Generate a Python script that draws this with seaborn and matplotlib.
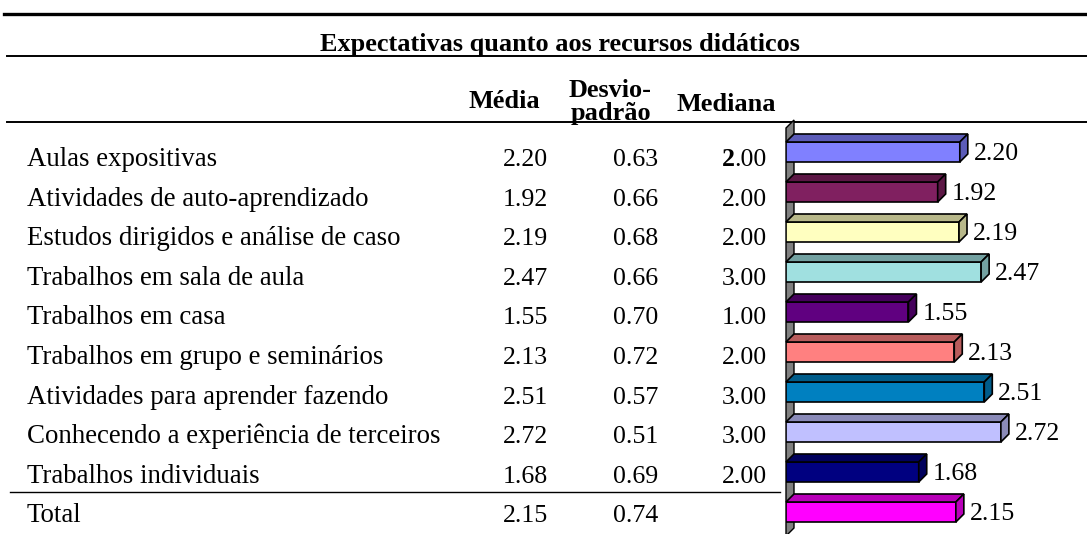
import matplotlib
matplotlib.use("Agg")
import matplotlib.pyplot as plt
import seaborn as sns
from matplotlib.patches import Polygon
from matplotlib.colors import to_rgb

# Data
recursos = [
    "Aulas expositivas",
    "Atividades de auto-aprendizado",
    "Estudos dirigidos e análise de caso",
    "Trabalhos em sala de aula",
    "Trabalhos em casa",
    "Trabalhos em grupo e seminários",
    "Atividades para aprender fazendo",
    "Conhecendo a experiência de terceiros",
    "Trabalhos individuais",
    "Total",
]
media = [2.20, 1.92, 2.19, 2.47, 1.55, 2.13, 2.51, 2.72, 1.68, 2.15]
desvio = [0.63, 0.66, 0.68, 0.66, 0.70, 0.72, 0.57, 0.51, 0.69, 0.74]
mediana = [2.00, 2.00, 2.00, 3.00, 1.00, 2.00, 3.00, 3.00, 2.00, None]
cores = ["#8080FF", "#802060", "#FFFFC0", "#A0E0E0", "#600080",
         "#FF8080", "#0080C0", "#C0C0FF", "#000080", "#FF00FF"]

W, H = 1087, 534
serif = "Liberation Serif"
fs = 18.6      # numbers
fs_lab = 19.4  # row labels

fig = plt.figure(figsize=(W / 100, H / 100), dpi=100)

# background axes in pixel coordinates for the table part
bg = fig.add_axes([0, 0, 1, 1])
bg.set_xlim(0, W)
bg.set_ylim(H, 0)
bg.axis("off")

bg.plot([4, W], [14, 14], color="black", lw=2.4)
bg.plot([7, W], [55.5, 55.5], color="black", lw=1.4)
bg.plot([7, W], [122, 122], color="black", lw=1.4)
bg.plot([10, 780], [492, 492], color="black", lw=1.0)

bold = dict(ha="center", va="baseline", fontsize=18.9, fontweight="bold", family=serif)
bg.text(560, 51, "Expectativas quanto aos recursos didáticos", **bold)
bg.text(504, 108, "Média", **bold)
bg.text(610, 97, "Desvio-", **bold)
bg.text(611, 120, "padrão", **bold)
bg.text(726, 111, "Mediana", **bold)

fig.canvas.draw()
renderer = fig.canvas.get_renderer()
for i, nome in enumerate(recursos):
    yb = 166 + 39.6 * i
    bg.text(27, yb, nome, ha="left", va="baseline", fontsize=fs_lab, family=serif)
    bg.text(548, yb, f"{media[i]:.2f}", ha="right", va="baseline", fontsize=fs, family=serif)
    bg.text(658, yb, f"{desvio[i]:.2f}", ha="right", va="baseline", fontsize=fs, family=serif)
    if mediana[i] is None:
        continue
    s = f"{mediana[i]:.2f}"
    if i == 0:
        # first value has a bold integer part in the original
        t = bg.text(767, yb, s[1:], ha="right", va="baseline", fontsize=fs, family=serif)
        bb = t.get_window_extent(renderer)
        x0 = bg.transData.inverted().transform((bb.x0, 0))[0]
        bg.text(x0, yb, s[0], ha="right", va="baseline", fontsize=fs,
                fontweight="bold", family=serif)
    else:
        bg.text(767, yb, s, ha="right", va="baseline", fontsize=fs, family=serif)

# bar chart axes
px_unit = 79.0
ax = fig.add_axes([786 / W, 2 / H, (W - 786) / W, 400 / H])
ax.patch.set_alpha(0)
sns.barplot(x=media, y=recursos, hue=recursos, palette=cores, legend=False,
            orient="h", width=0.5, saturation=1, edgecolor="black",
            linewidth=1.2, ax=ax, zorder=3)
ax.set_xlim(0, (W - 786) / px_unit)
ax.set_ylim(9.5, -0.5)
ax.axis("off")

dx = 8 / px_unit
dy = 8 / 40.0

# gray side wall
wall = Polygon([(0, 9.6), (0, -0.6), (dx, -0.6 - dy), (dx, 9.6 - dy)],
               closed=True, facecolor="#808080", edgecolor="black", lw=1.0,
               clip_on=False, zorder=1)
ax.add_patch(wall)

for p, c in zip(ax.patches[:len(media)], cores):
    x1 = p.get_width()
    y0 = p.get_y()
    y1 = y0 + p.get_height()
    dark = tuple(v * 0.72 for v in to_rgb(c))
    top = Polygon([(0, y0), (dx, y0 - dy), (x1 + dx, y0 - dy), (x1, y0)],
                  closed=True, facecolor=dark, edgecolor="black", lw=1.2,
                  clip_on=False, zorder=3)
    side = Polygon([(x1, y0), (x1 + dx, y0 - dy), (x1 + dx, y1 - dy), (x1, y1)],
                   closed=True, facecolor=dark, edgecolor="black", lw=1.2,
                   clip_on=False, zorder=3)
    ax.add_patch(top)
    ax.add_patch(side)
    ax.text(x1 + dx + 6 / px_unit, (y0 + y1) / 2 + 0.2, f"{x1:.2f}",
            ha="left", va="baseline", fontsize=fs, family=serif, clip_on=False,
            zorder=4)

fig.savefig("out.png", dpi=100)
